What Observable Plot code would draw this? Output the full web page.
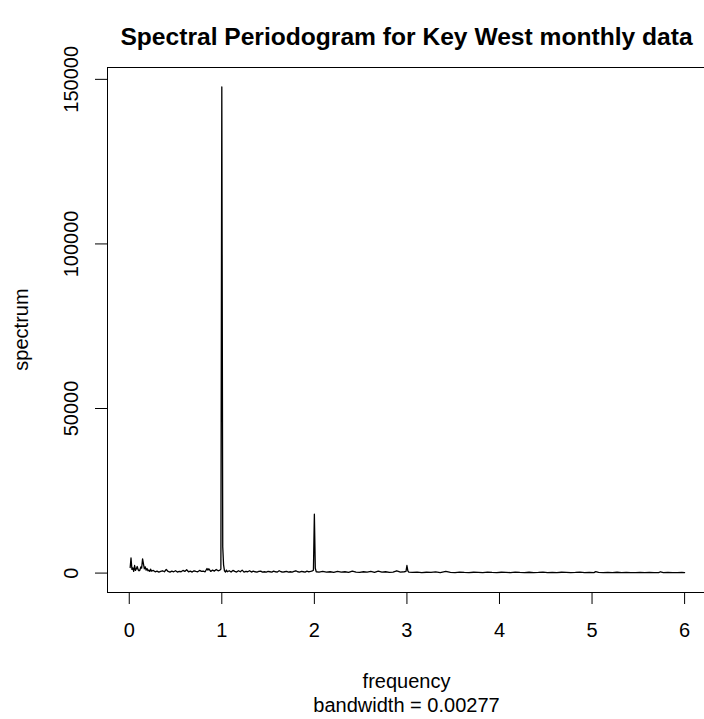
<!DOCTYPE html>
<html>
<head>
<meta charset="utf-8">
<script src="https://cdn.jsdelivr.net/npm/d3@7"></script>
<script src="https://cdn.jsdelivr.net/npm/@observablehq/plot@0.6"></script>
<style>
  html, body { margin: 0; padding: 0; background: #fff; }
  svg { font-family: "Liberation Sans", Arial, Helvetica, sans-serif; }
</style>
</head>
<body>
<div id="chart"></div>
<script>
const titleText = "Spectral Periodogram for Key West monthly data";
const xLabel = "frequency";
const subLabel = "bandwidth = 0.00277";
const yLabel = "spectrum";
const xTicks = [0, 1, 2, 3, 4, 5, 6];
const yTicks = [0, 50000, 100000, 150000];

const freq = [
  0.010, 0.019, 0.029, 0.038, 0.048, 0.058, 0.067, 0.077, 0.086, 0.096,
  0.106, 0.115, 0.125, 0.134, 0.144, 0.154, 0.163, 0.173, 0.182, 0.192,
  0.202, 0.211, 0.221, 0.230, 0.240, 0.26, 0.28, 0.30, 0.32, 0.34,
  0.36, 0.38, 0.40, 0.42, 0.44, 0.46, 0.48, 0.50, 0.52, 0.54,
  0.56, 0.58, 0.60, 0.62, 0.64, 0.66, 0.68, 0.70, 0.72, 0.74,
  0.76, 0.78, 0.80, 0.82, 0.84, 0.85, 0.86, 0.88, 0.90, 0.92,
  0.94, 0.96, 0.98, 0.99, 1.000, 1.010, 1.019, 1.029, 1.04, 1.05,
  1.06, 1.08, 1.10, 1.12, 1.14, 1.16, 1.18, 1.20, 1.22, 1.24,
  1.26, 1.28, 1.30, 1.32, 1.34, 1.36, 1.38, 1.40, 1.42, 1.44,
  1.46, 1.48, 1.50, 1.52, 1.54, 1.56, 1.58, 1.60, 1.62, 1.64,
  1.66, 1.68, 1.70, 1.72, 1.74, 1.76, 1.78, 1.80, 1.82, 1.84,
  1.86, 1.88, 1.90, 1.92, 1.94, 1.96, 1.98, 1.99, 2.000, 2.010,
  2.02, 2.05, 2.09, 2.13, 2.17, 2.21, 2.25, 2.29, 2.33, 2.37,
  2.41, 2.45, 2.49, 2.53, 2.57, 2.61, 2.65, 2.69, 2.73, 2.77,
  2.81, 2.85, 2.89, 2.93, 2.97, 2.99, 3.000, 3.010, 3.02, 3.06,
  3.11, 3.16, 3.21, 3.26, 3.31, 3.36, 3.42, 3.47, 3.52, 3.57,
  3.62, 3.67, 3.72, 3.77, 3.82, 3.87, 3.92, 3.97, 4.02, 4.07,
  4.12, 4.17, 4.22, 4.27, 4.32, 4.37, 4.42, 4.47, 4.52, 4.57,
  4.62, 4.67, 4.72, 4.77, 4.82, 4.87, 4.92, 4.97, 5.02, 5.04,
  5.07, 5.12, 5.17, 5.22, 5.27, 5.32, 5.37, 5.42, 5.47, 5.52,
  5.57, 5.62, 5.67, 5.72, 5.74, 5.77, 5.82, 5.87, 5.92, 5.97,
  6.00
];
const spec = [
  1700, 4600, 1100, 1600, 500, 2300, 800, 1300, 2000, 1000,
  700, 900, 1900, 1500, 4300, 2700, 1300, 1900, 900, 1400,
  700, 900, 500, 1200, 600, 800, 400, 600, 300, 500,
  700, 400, 1100, 500, 300, 600, 400, 700, 300, 500,
  400, 800, 500, 1000, 400, 600, 300, 700, 500, 400,
  800, 500, 600, 400, 1400, 900, 1300, 500, 900, 600,
  1100, 700, 900, 1200, 147700, 8000, 2500, 700, 300, 900,
  400, 700, 300, 800, 500, 300, 700, 400, 900, 300,
  500, 400, 700, 300, 600, 400, 300, 500, 600, 300,
  400, 300, 500, 400, 300, 600, 400, 300, 700, 400,
  300, 400, 500, 300, 400, 300, 500, 700, 400, 300,
  500, 400, 300, 600, 400, 500, 700, 900, 17900, 1500,
  400, 300, 500, 300, 400, 200, 500, 300, 400, 200,
  600, 300, 200, 400, 300, 500, 200, 600, 300, 400,
  200, 300, 700, 300, 400, 500, 2300, 700, 300, 200,
  300, 150, 250, 200, 350, 150, 500, 200, 150, 300,
  200, 150, 250, 200, 150, 300, 200, 150, 250, 200,
  150, 300, 200, 150, 250, 150, 200, 300, 150, 200,
  150, 250, 200, 150, 200, 300, 150, 200, 150, 450,
  200, 150, 200, 150, 250, 150, 200, 150, 150, 200,
  150, 200, 150, 150, 400, 150, 200, 150, 150, 200,
  150
];

const data = freq.map((f, i) => ({freq: f, spec: spec[i]}));

const W = 704, H = 719;
const mL = 107, mR = 0, mT = 67, mB = 127;

const chart = Plot.plot({
  width: W,
  height: H,
  marginLeft: mL,
  marginRight: mR,
  marginTop: mT,
  marginBottom: mB,
  style: {fontFamily: '"Liberation Sans", Arial, Helvetica, sans-serif', background: "#fff", overflow: "visible"},
  x: {domain: [-0.235, 6.215], axis: null},
  y: {domain: [-5900, 153600], axis: null},
  marks: [
    Plot.frame({anchor: "top", stroke: "black"}),
    Plot.frame({anchor: "left", stroke: "black"}),
    Plot.frame({anchor: "bottom", stroke: "black"}),
    Plot.axisX({ticks: xTicks, tickSize: 12, tickPadding: 18, fontSize: 20, label: null, stroke: "black", color: "black", tickFormat: d => String(d)}),
    Plot.axisY({ticks: yTicks, tickSize: 12, label: null, stroke: "black", tickFormat: () => ""}),
    Plot.text(yTicks, {y: d => d, text: d => String(d), frameAnchor: "left", dx: -36, rotate: -90, fontSize: 20, textAnchor: "middle", lineAnchor: "middle", fill: "black"}),
    Plot.line(data, {x: "freq", y: "spec", stroke: "black", strokeWidth: 1.3})
  ]
});

const svg = d3.select(chart);
const cx = mL + (706 - mL) / 2;
svg.append("text").attr("x", cx).attr("y", 45).attr("text-anchor", "middle")
  .attr("font-size", 24.6).attr("font-weight", "bold").attr("fill", "black").text(titleText);
svg.append("text").attr("x", cx).attr("y", 688).attr("text-anchor", "middle")
  .attr("font-size", 20).attr("fill", "black").text(xLabel);
svg.append("text").attr("x", cx).attr("y", 712).attr("text-anchor", "middle")
  .attr("font-size", 20).attr("fill", "black").text(subLabel);
svg.append("text").attr("transform", `translate(28, ${(mT + (H - mB)) / 2}) rotate(-90)`)
  .attr("text-anchor", "middle").attr("font-size", 20).attr("fill", "black").text(yLabel);

document.getElementById("chart").appendChild(chart);
</script>
</body>
</html>
